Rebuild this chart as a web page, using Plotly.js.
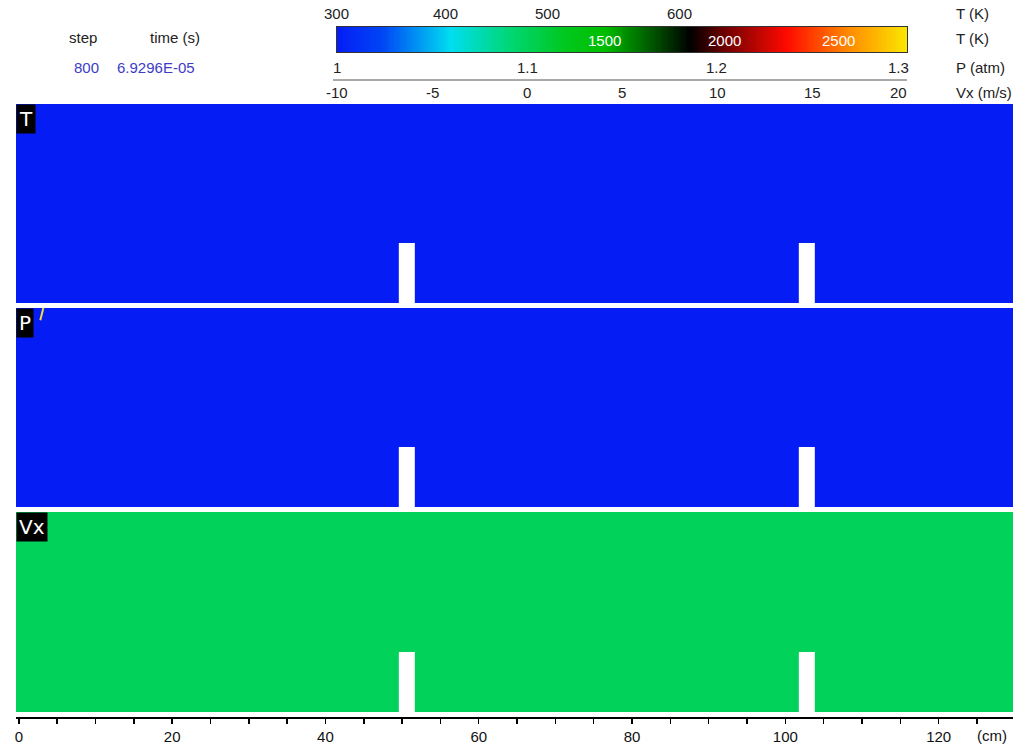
<!DOCTYPE html>
<html>
<head>
<meta charset="utf-8">
<script src="https://cdn.plot.ly/plotly-3.0.1.min.js"></script>
<style>html,body{margin:0;padding:0;background:#fff;}#chart{width:1013px;height:745px;}</style>
</head>
<body>
<div id="chart"></div>
<script>
// ---------- data ----------
const stepValue = '800';
const timeValue = '6.9296E-05';
// cell edges (cm) across the channel: obstacles at 49.6-51.7 and 101.8-103.9
const xEdges = [-0.4, 49.6, 51.7, 101.8, 103.9, 130];
// vertical cell edges (cm): obstacle height 7.8, channel height 26
const yEdges = [0, 7.8, 26];
// fields (null = solid obstacle)
const tField = [[300, null, 300, null, 300], [300, 300, 300, 300, 300]];
const pField = [[1.0, null, 1.0, null, 1.0], [1.0, 1.0, 1.0, 1.0, 1.0]];
const vxField = [[0, null, 0, null, 0], [0, 0, 0, 0, 0]];
// faint pressure front near inlet of P panel
const pFrontX = [3.2, 2.8];
const pFrontY = [26, 24.4];
// colour-bar labels
const tTopLabels = ['300', '400', '500', '600'];
const tTopFrac = [0.0, 0.19, 0.37, 0.60];
const tInLabels = ['1500', '2000', '2500'];
const tInFrac = [0.47, 0.68, 0.88];
const pTicks = [1, 1.1, 1.2, 1.3];
const vxTicks = [-10, -5, 0, 5, 10, 15, 20];
const unitLabels = ['T (K)', 'T (K)', 'P (atm)', 'Vx (m/s)'];
const panelNames = ['T', 'P', 'Vx'];

// ---------- style ----------
const W = 1013, H = 745;
const px = v => v / W;
const py = v => 1 - v / H;
const FONT = 'Liberation Sans, Arial, Helvetica, sans-serif';
const cscale = [
  [0.00, 'rgb(5,28,245)'],
  [0.08, 'rgb(0,70,245)'],
  [0.20, 'rgb(0,222,240)'],
  [0.30, 'rgb(0,215,120)'],
  [0.40, 'rgb(0,200,30)'],
  [0.47, 'rgb(0,190,0)'],
  [0.55, 'rgb(0,90,0)'],
  [0.62, 'rgb(0,0,0)'],
  [0.68, 'rgb(110,0,0)'],
  [0.79, 'rgb(255,10,0)'],
  [0.90, 'rgb(255,140,0)'],
  [1.00, 'rgb(250,230,0)']
];

// colour-bar ramp in Vx units
const rampX = [];
for (let v = -10; v <= 20.0001; v += 0.125) rampX.push(v);

const traces = [
  {type:'heatmap', x:xEdges, y:yEdges, z:tField, xaxis:'x', yaxis:'y', colorscale:cscale, zmin:300, zmax:2800, showscale:false, hoverinfo:'skip'},
  {type:'heatmap', x:xEdges, y:yEdges, z:pField, xaxis:'x', yaxis:'y2', colorscale:cscale, zmin:1, zmax:1.3, showscale:false, hoverinfo:'skip'},
  {type:'heatmap', x:xEdges, y:yEdges, z:vxField, xaxis:'x', yaxis:'y3', colorscale:cscale, zmin:-10, zmax:20, showscale:false, hoverinfo:'skip'},
  {type:'scatter', mode:'lines', x:pFrontX, y:pFrontY, xaxis:'x', yaxis:'y2', line:{color:'rgb(240,220,60)', width:2}, hoverinfo:'skip'},
  {type:'heatmap', x:rampX, y:[0, 1], z:[rampX], xaxis:'x2', yaxis:'y4', colorscale:cscale, zmin:-10, zmax:20, showscale:false, hoverinfo:'skip'}
];

const panelAxis = (top, bottom) => ({domain:[py(bottom), py(top)], range:[0, 26], anchor:'x', visible:false, fixedrange:true});
const panelTops = [104, 308, 512];
const panelBottoms = [303, 507, 712];

const annotations = [];
function ann(text, x, y, opt) {
  annotations.push(Object.assign({text:text, x:x, y:y, xref:'paper', yref:'paper', showarrow:false,
    xanchor:'center', yanchor:'middle', font:{family:FONT, size:15, color:'#222'}}, opt || {}));
}
// header
ann('step', px(83), py(38));
ann('time (s)', px(175), py(38));
ann(stepValue, px(86), py(67), {font:{family:FONT, size:15, color:'#3c3cc8'}});
ann(timeValue, px(156), py(67), {font:{family:FONT, size:15, color:'#3c3cc8'}});
// colour-bar labels
const barL = 337, barR = 907;
tTopLabels.forEach((t, i) => ann(t, px(barL + tTopFrac[i] * (barR - barL)), py(14), i === 0 ? {xanchor:'center', x:px(336)} : {}));
tInLabels.forEach((t, i) => ann(t, px(barL + tInFrac[i] * (barR - barL)), py(40), {font:{family:FONT, size:15, color:'#ffffff'}}));
pTicks.forEach((p, i) => {
  const xv = barL + (p - pTicks[0]) / (pTicks[pTicks.length - 1] - pTicks[0]) * (barR - barL);
  ann(String(p), px(i === pTicks.length - 1 ? xv + 4 : xv), py(67), i === pTicks.length - 1 ? {xanchor:'right'} : {});
});
vxTicks.forEach((v, i) => {
  const xv = barL + (v - vxTicks[0]) / (vxTicks[vxTicks.length - 1] - vxTicks[0]) * (barR - barL);
  ann(String(v), px(i === vxTicks.length - 1 ? xv + 2 : xv), py(92), i === vxTicks.length - 1 ? {xanchor:'right'} : {});
});
const unitY = [14, 39, 67, 92];
unitLabels.forEach((u, i) => ann(u, px(954), py(unitY[i]), {xanchor:'left'}));
// panel labels
panelNames.forEach((n, i) => ann(n, px(16), py(panelTops[i]), {xanchor:'left', yanchor:'top', bgcolor:'#000', borderpad:2,
  font:{family:'DejaVu Sans, sans-serif', size:20, color:'#fff'}}));
// axis unit
ann('(cm)', px(992), py(735), {font:{family:FONT, size:15, color:'#111'}});

const layout = {
  width:W, height:H, margin:{l:0, r:0, t:0, b:0},
  paper_bgcolor:'#fff', plot_bgcolor:'rgba(0,0,0,0)', showlegend:false,
  xaxis:{domain:[px(16), 1], range:[-0.37, 129.7], anchor:'free', position:py(717),
    showline:true, linecolor:'#000', linewidth:1.5, showgrid:false, zeroline:false,
    ticks:'outside', ticklen:5, tickwidth:1.5, tickcolor:'#000', tick0:0, dtick:20,
    ticklabelstandoff:0,
    minor:{tick0:0, dtick:5, ticks:'outside', ticklen:5, tickwidth:1.5, tickcolor:'#000', showgrid:false},
    tickfont:{family:FONT, size:15, color:'#111'}, fixedrange:true},
  yaxis: panelAxis(panelTops[0], panelBottoms[0]),
  yaxis2: panelAxis(panelTops[1], panelBottoms[1]),
  yaxis3: panelAxis(panelTops[2], panelBottoms[2]),
  xaxis2:{domain:[px(barL), px(barR)], range:[-10, 20], anchor:'y4', showline:true, mirror:true, linecolor:'#333', linewidth:1,
    showticklabels:false, ticks:'', showgrid:false, zeroline:false, fixedrange:true},
  yaxis4:{domain:[py(52), py(27)], range:[0, 1], anchor:'x2', showline:true, mirror:true, linecolor:'#333', linewidth:1,
    showticklabels:false, ticks:'', showgrid:false, zeroline:false, fixedrange:true},
  shapes:[
    {type:'line', xref:'paper', yref:'paper', x0:px(333), x1:px(907), y0:py(80), y1:py(80), line:{color:'#555', width:1}}
  ],
  annotations:annotations
};

Plotly.newPlot('chart', traces, layout, {staticPlot:true, displayModeBar:false});
</script>
</body>
</html>
